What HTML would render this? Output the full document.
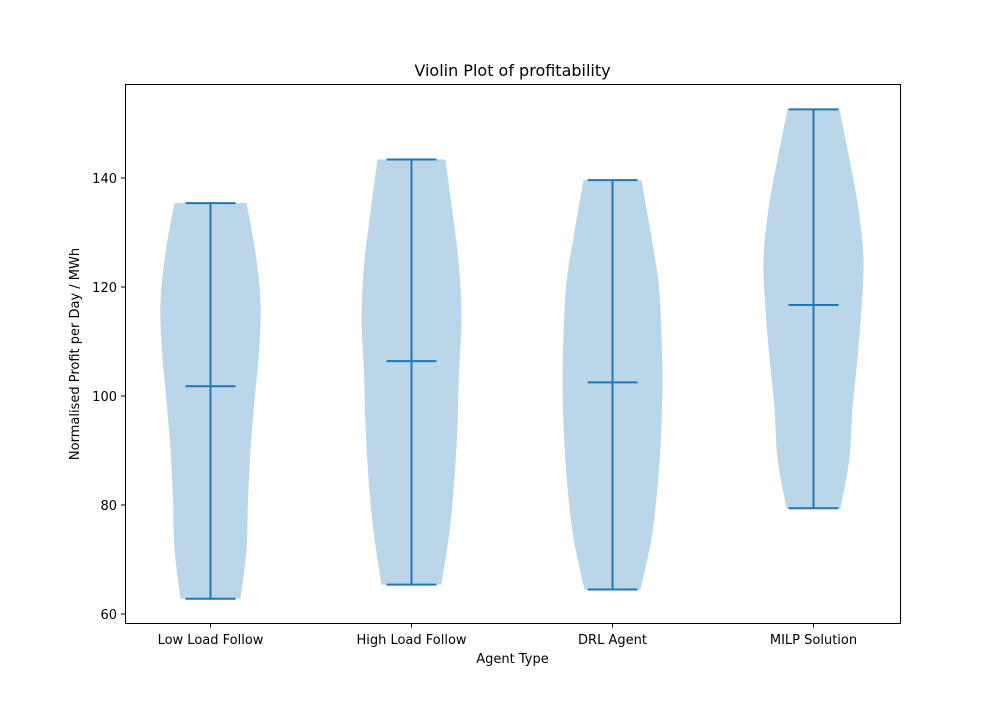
<!DOCTYPE html>
<html><head><meta charset="utf-8"><style>
body{margin:0;background:#fff}
svg text{font-family:"DejaVu Sans","Liberation Sans",sans-serif;fill:#000}
</style></head><body>
<svg id="chart" width="1000" height="700" viewBox="0 0 1000 700" xmlns="http://www.w3.org/2000/svg">
<rect width="1000" height="700" fill="#fff"/>
<text x="512.5" y="76" font-size="16" text-anchor="middle">Violin Plot of profitability</text>
<g id="violins"></g>
<rect x="125.5" y="84.5" width="775" height="539" fill="none" stroke="#000" stroke-width="1"/>
<g id="axes"></g>
<text x="512.5" y="663" font-size="13" text-anchor="middle">Agent Type</text>
<text x="79" y="354" font-size="13" text-anchor="middle" transform="rotate(-90 79 354)">Normalised Profit per Day / MWh</text>
</svg>
<script>
const categories = ["Low Load Follow","High Load Follow","DRL Agent","MILP Solution"];
const mins = [62.8, 65.4, 64.5, 79.4];
const maxs = [135.4, 143.4, 139.6, 152.6];
const means = [101.8, 106.4, 102.5, 116.7];
// relative density at 9 evenly spaced levels from min to max
const density1 = [0.6,0.72,0.75,0.8,0.88,0.97,1.0,0.9,0.72];
const density2 = [0.6,0.76,0.86,0.92,0.95,1.0,0.95,0.82,0.68];
const density3 = [0.56,0.78,0.9,0.97,1.0,0.98,0.92,0.76,0.58];
const density4 = [0.54,0.72,0.78,0.88,0.96,1.0,0.9,0.72,0.52];
const densities = [density1,density2,density3,density4];
const yTicks = [60,80,100,120,140];

const NS="http://www.w3.org/2000/svg";
function yScale(v){return 614-(v-60)*5.45;}
function xScale(i){return 210.5+i*201;}
const maxHW=50, capHW=25;
function mk(tag,attrs,parent){const e=document.createElementNS(NS,tag);for(const k in attrs)e.setAttribute(k,attrs[k]);parent.appendChild(e);return e;}
const vg=document.getElementById('violins');
const ag=document.getElementById('axes');

function spline(pts){ // Catmull-Rom to bezier
  let d="M"+pts[0][0]+","+pts[0][1];
  for(let i=0;i<pts.length-1;i++){
    const p0=pts[Math.max(i-1,0)],p1=pts[i],p2=pts[i+1],p3=pts[Math.min(i+2,pts.length-1)];
    const c1=[p1[0]+(p2[0]-p0[0])/6,p1[1]+(p2[1]-p0[1])/6];
    const c2=[p2[0]-(p3[0]-p1[0])/6,p2[1]-(p3[1]-p1[1])/6];
    d+=" C"+c1+" "+c2+" "+p2;
  }
  return d;
}

categories.forEach((c,i)=>{
  const cx=xScale(i), dens=densities[i], n=dens.length;
  const right=[], left=[];
  for(let k=0;k<n;k++){
    const v=mins[i]+(maxs[i]-mins[i])*k/(n-1);
    right.push([cx+dens[k]*maxHW, yScale(v)]);
  }
  for(let k=n-1;k>=0;k--){
    const v=mins[i]+(maxs[i]-mins[i])*k/(n-1);
    left.push([cx-dens[k]*maxHW, yScale(v)]);
  }
  let d=spline(right)+" L"+left[0]+" "+spline(left).slice(1).replace(/^[^C]*/,"")+" Z";
  const body=mk('path',{d:d,fill:'#1f77b4','fill-opacity':'0.3'},vg);
  
  
  const stem=mk('line',{x1:cx,x2:cx,y1:yScale(mins[i]),y2:yScale(maxs[i]),stroke:'#1f77b4','stroke-width':2},vg);
  
  
  [["min",mins[i]],["max",maxs[i]],["mean",means[i]]].forEach(([nm,v])=>{
    const l=mk('line',{x1:cx-capHW,x2:cx+capHW,y1:yScale(v),y2:yScale(v),stroke:'#1f77b4','stroke-width':2},vg);
    
    
  });
  const tk=mk('line',{x1:cx,x2:cx,y1:623.5,y2:627.5,stroke:'#000'},ag);
  
  
  const t=mk('text',{x:cx,y:644,'font-size':13,'text-anchor':'middle'},ag);
  t.textContent=c;
  
  
});
yTicks.forEach(v=>{
  const y=yScale(v);
  const tk=mk('line',{x1:121,x2:125.5,y1:y,y2:y,stroke:'#000'},ag);
  
  
  const t=mk('text',{x:117,y:y+5,'font-size':13,'text-anchor':'end'},ag);
  t.textContent=v;
  
  
});
</script>
</body></html>
